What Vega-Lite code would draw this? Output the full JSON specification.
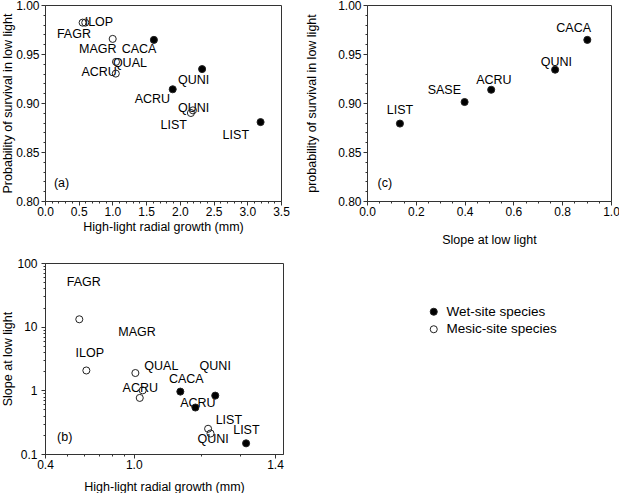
{
  "$schema": "https://vega.github.io/schema/vega-lite/v6.json",
  "padding": {"left": 0, "top": -2, "right": 0, "bottom": 0},
  "background": "white",
  "config": {
    "view": {"stroke": "#333", "strokeWidth": 1},
    "axis": {"grid": false, "domainColor": "#333", "tickColor": "#333", "labelFont": "Liberation Sans", "labelFontSize": 12, "labelColor": "black", "titleFont": "Liberation Sans", "titleFontSize": 12.5, "titleFontWeight": "normal", "titleColor": "black", "labelOverlap": false, "labelFlush": false},
    "text": {"font": "Liberation Sans", "fontSize": 12.5, "color": "black"}
  },
  "datasets": {
    "pa": [
      {"label": "CACA", "site": "Wet-site species", "x": 1.615, "y": 0.9644},
      {"label": "QUNI", "site": "Wet-site species", "x": 2.33, "y": 0.9346},
      {"label": "ACRU", "site": "Wet-site species", "x": 1.894, "y": 0.914},
      {"label": "LIST", "site": "Wet-site species", "x": 3.197, "y": 0.8805},
      {"label": "FAGR", "site": "Mesic-site species", "x": 0.558, "y": 0.982},
      {"label": "ILOP", "site": "Mesic-site species", "x": 0.597, "y": 0.982},
      {"label": "MAGR", "site": "Mesic-site species", "x": 1.004, "y": 0.9654},
      {"label": "QUAL", "site": "Mesic-site species", "x": 1.053, "y": 0.942},
      {"label": "ACRU", "site": "Mesic-site species", "x": 1.05, "y": 0.930},
      {"label": "LIST", "site": "Mesic-site species", "x": 2.164, "y": 0.8898},
      {"label": "QUNI", "site": "Mesic-site species", "x": 2.194, "y": 0.8925}
    ],
    "la": [
      {"label": "ILOP", "x": 0.80, "y": 0.983},
      {"label": "FAGR", "x": 0.429, "y": 0.9705},
      {"label": "MAGR", "x": 0.784, "y": 0.955},
      {"label": "CACA", "x": 1.395, "y": 0.955},
      {"label": "QUAL", "x": 1.259, "y": 0.9407},
      {"label": "ACRU", "x": 0.803, "y": 0.9315},
      {"label": "QUNI", "x": 2.203, "y": 0.923},
      {"label": "ACRU", "x": 1.592, "y": 0.9044},
      {"label": "QUNI", "x": 2.203, "y": 0.8949},
      {"label": "LIST", "x": 1.909, "y": 0.878},
      {"label": "LIST", "x": 2.83, "y": 0.8678},
      {"label": "(a)", "x": 0.245, "y": 0.818}
    ],
    "pc": [
      {"label": "LIST", "site": "Wet-site species", "x": 0.135, "y": 0.879},
      {"label": "SASE", "site": "Wet-site species", "x": 0.40, "y": 0.901},
      {"label": "ACRU", "site": "Wet-site species", "x": 0.509, "y": 0.9135},
      {"label": "QUNI", "site": "Wet-site species", "x": 0.771, "y": 0.934},
      {"label": "CACA", "site": "Wet-site species", "x": 0.903, "y": 0.9644}
    ],
    "lc": [
      {"label": "LIST", "x": 0.135, "y": 0.893},
      {"label": "SASE", "x": 0.317, "y": 0.9135},
      {"label": "ACRU", "x": 0.52, "y": 0.923},
      {"label": "QUNI", "x": 0.776, "y": 0.9423},
      {"label": "CACA", "x": 0.847, "y": 0.977},
      {"label": "(c)", "x": 0.073, "y": 0.818}
    ],
    "pb": [
      {"label": "FAGR", "site": "Mesic-site species", "x": 0.570, "y": 13.06},
      {"label": "ILOP", "site": "Mesic-site species", "x": 0.613, "y": 2.05},
      {"label": "MAGR", "site": "Mesic-site species", "x": 1.017, "y": 1.87},
      {"label": "QUAL", "site": "Mesic-site species", "x": 1.097, "y": 1.0},
      {"label": "ACRU", "site": "Mesic-site species", "x": 1.064, "y": 0.76},
      {"label": "LIST", "site": "Mesic-site species", "x": 2.155, "y": 0.249},
      {"label": "QUNI", "site": "Mesic-site species", "x": 2.21, "y": 0.21},
      {"label": "CACA", "site": "Wet-site species", "x": 1.618, "y": 0.955},
      {"label": "ACRU", "site": "Wet-site species", "x": 1.89, "y": 0.537},
      {"label": "QUNI", "site": "Wet-site species", "x": 2.32, "y": 0.826},
      {"label": "LIST", "site": "Wet-site species", "x": 3.19, "y": 0.147}
    ],
    "lb": [
      {"label": "FAGR", "x": 0.597, "y": 50.5},
      {"label": "MAGR", "x": 1.035, "y": 8.35},
      {"label": "ILOP", "x": 0.635, "y": 3.92},
      {"label": "QUAL", "x": 1.33, "y": 2.43},
      {"label": "QUNI", "x": 2.32, "y": 2.43},
      {"label": "CACA", "x": 1.72, "y": 1.51},
      {"label": "ACRU", "x": 1.07, "y": 1.09},
      {"label": "ACRU", "x": 1.94, "y": 0.636},
      {"label": "LIST", "x": 2.67, "y": 0.348},
      {"label": "LIST", "x": 3.2, "y": 0.237},
      {"label": "QUNI", "x": 2.27, "y": 0.170},
      {"label": "(b)", "x": 0.49, "y": 0.184}
    ]
  },
  "columns": 2,
  "spacing": {"row": 62, "column": 84},
  "bounds": "flush",
  "resolve": {"scale": {"fill": "independent"}, "legend": {"fill": "independent"}},
  "concat": [
    {
      "width": 236, "height": 196,
      "encoding": {
        "x": {"field": "x", "type": "quantitative",
          "scale": {"domain": [0, 3.5], "nice": false, "zero": false},
          "axis": {"title": "High-light radial growth (mm)",
            "values": [0,0.1,0.2,0.3,0.4,0.5,0.6,0.7,0.8,0.9,1,1.1,1.2,1.3,1.4,1.5,1.6,1.7,1.8,1.9,2,2.1,2.2,2.3,2.4,2.5,2.6,2.7,2.8,2.9,3,3.1,3.2,3.3,3.4,3.5],
            "labelExpr": "indexof([0,0.5,1,1.5,2,2.5,3,3.5], datum.value) >= 0 ? format(datum.value, '.1f') : ''",
            "tickSize": {"condition": {"test": "indexof([0,0.5,1,1.5,2,2.5,3,3.5], datum.value) >= 0", "value": 4}, "value": 2},
            "labelPadding": 1, "titlePadding": 3}},
        "y": {"field": "y", "type": "quantitative",
          "scale": {"domain": [0.8, 1.0], "nice": false, "zero": false},
          "axis": {"title": "Probability of survival in low light",
            "values": [0.8,0.81,0.82,0.83,0.84,0.85,0.86,0.87,0.88,0.89,0.9,0.91,0.92,0.93,0.94,0.95,0.96,0.97,0.98,0.99,1],
            "labelExpr": "indexof([0.8,0.85,0.9,0.95,1], datum.value) >= 0 ? format(datum.value, '.2f') : ''",
            "tickSize": {"condition": {"test": "indexof([0.8,0.85,0.9,0.95,1], datum.value) >= 0", "value": 4}, "value": 2},
            "labelPadding": 2, "titlePadding": 1.5}}
      },
      "layer": [
        {"data": {"name": "la"}, "mark": {"type": "text", "align": "center", "baseline": "middle"}, "encoding": {"text": {"field": "label"}}},
        {"data": {"name": "pa"}, "mark": {"type": "point", "shape": "circle", "filled": true, "size": 50, "stroke": "#222", "strokeWidth": 1, "opacity": 1},
          "encoding": {"fill": {"field": "site", "type": "nominal", "scale": {"domain": ["Wet-site species", "Mesic-site species"], "range": ["black", "transparent"]}, "legend": null}}}
      ]
    },
    {
      "width": 244, "height": 196,
      "encoding": {
        "x": {"field": "x", "type": "quantitative",
          "scale": {"domain": [0, 1], "nice": false, "zero": false},
          "axis": {"title": "Slope at low light",
            "values": [0,0.05,0.1,0.15,0.2,0.25,0.3,0.35,0.4,0.45,0.5,0.55,0.6,0.65,0.7,0.75,0.8,0.85,0.9,0.95,1],
            "labelExpr": "indexof([0,0.2,0.4,0.6,0.8,1], datum.value) >= 0 ? format(datum.value, '.1f') : ''",
            "tickSize": {"condition": {"test": "indexof([0,0.2,0.4,0.6,0.8,1], datum.value) >= 0", "value": 4}, "value": 2},
            "labelPadding": 1, "titlePadding": 16}},
        "y": {"field": "y", "type": "quantitative",
          "scale": {"domain": [0.8, 1.0], "nice": false, "zero": false},
          "axis": {"title": "probability of survival in low light",
            "values": [0.8,0.81,0.82,0.83,0.84,0.85,0.86,0.87,0.88,0.89,0.9,0.91,0.92,0.93,0.94,0.95,0.96,0.97,0.98,0.99,1],
            "labelExpr": "indexof([0.8,0.85,0.9,0.95,1], datum.value) >= 0 ? format(datum.value, '.2f') : ''",
            "tickSize": {"condition": {"test": "indexof([0.8,0.85,0.9,0.95,1], datum.value) >= 0", "value": 4}, "value": 2},
            "labelPadding": 2, "titlePadding": 19}}
      },
      "layer": [
        {"data": {"name": "lc"}, "mark": {"type": "text", "align": "center", "baseline": "middle"}, "encoding": {"text": {"field": "label"}}},
        {"data": {"name": "pc"}, "mark": {"type": "point", "shape": "circle", "filled": true, "size": 50, "stroke": "#222", "strokeWidth": 1, "opacity": 1},
          "encoding": {"fill": {"field": "site", "type": "nominal", "scale": {"domain": ["Wet-site species", "Mesic-site species"], "range": ["black", "transparent"]}, "legend": null}}}
      ]
    },
    {
      "width": 238, "height": 191,
      "encoding": {
        "x": {"field": "x", "type": "quantitative",
          "scale": {"type": "log", "domain": [0.4, 4.67], "nice": false},
          "axis": {"title": "High-light radial growth (mm)",
            "values": [0.4,0.5,0.6,0.7,0.8,0.9,1,2,3,4.3],
            "labelExpr": "datum.value == 0.4 ? '0.4' : datum.value == 1 ? '1.0' : datum.value == 4.3 ? '1.4' : ''",
            "tickSize": {"condition": {"test": "indexof([0.4,1,4.3], datum.value) >= 0", "value": 4}, "value": 2},
            "labelPadding": 1, "titlePadding": 10}},
        "y": {"field": "y", "type": "quantitative",
          "scale": {"type": "log", "domain": [0.1, 100], "nice": false},
          "axis": {"title": "Slope at low light",
            "values": [0.1,0.2,0.3,0.4,0.5,0.6,0.7,0.8,0.9,1,2,3,4,5,6,7,8,9,10,20,30,40,50,60,70,80,90,100],
            "labelExpr": "indexof([0.1,1,10,100], datum.value) >= 0 ? format(datum.value, '~g') : ''",
            "tickSize": {"condition": {"test": "indexof([0.1,1,10,100], datum.value) >= 0", "value": 4}, "value": 2},
            "labelPadding": 4, "titlePadding": 2}}
      },
      "layer": [
        {"data": {"name": "lb"}, "mark": {"type": "text", "align": "center", "baseline": "middle"}, "encoding": {"text": {"field": "label"}}},
        {"data": {"name": "pb"}, "mark": {"type": "point", "shape": "circle", "filled": true, "size": 50, "stroke": "#222", "strokeWidth": 1, "opacity": 1},
          "encoding": {"fill": {"field": "site", "type": "nominal", "scale": {"domain": ["Wet-site species", "Mesic-site species"], "range": ["black", "transparent"]},
            "legend": {"orient": "none", "legendX": 382, "legendY": 42, "title": null, "direction": "vertical", "symbolType": "circle", "symbolSize": 50, "symbolStrokeColor": "#222", "symbolStrokeWidth": 1, "labelFont": "Liberation Sans", "labelFontSize": 13.5, "labelColor": "black", "labelOffset": 6, "rowPadding": 2.5}}}}
      ]
    }
  ]
}
